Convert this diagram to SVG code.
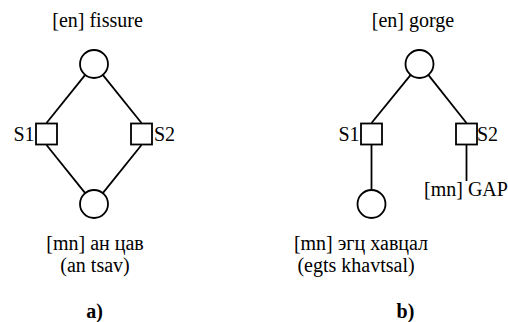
<svg xmlns="http://www.w3.org/2000/svg" width="508" height="322" viewBox="0 0 508 322">
<style>
.n{fill:#fff;stroke:#000;stroke-width:1.8}
.c line{stroke:#000;stroke-width:1.8}
</style>
<rect width="508" height="322" fill="#fff"/>
<g id="connectors" class="c">
<line x1="46.5" y1="123" x2="85.2" y2="74.9"/>
<line x1="141.5" y1="123" x2="102.8" y2="74.9"/>
<line x1="46.5" y1="145" x2="85.2" y2="193.1"/>
<line x1="141.5" y1="145" x2="102.8" y2="193.1"/>
<line x1="371.5" y1="123" x2="410.7" y2="74.9"/>
<line x1="466.5" y1="123" x2="428.3" y2="74.9"/>
<line x1="371.5" y1="145" x2="371.5" y2="190"/>
<line x1="466.5" y1="145" x2="466.5" y2="181"/>
</g>
<g id="a-top"><circle class="n" cx="94" cy="64" r="14"/><text font-family="Liberation Serif" font-size="20" text-anchor="middle" x="97.5" y="27">[en] fissure</text></g>
<g id="a-s1"><rect class="n" x="36" y="123.5" width="21" height="21"/><text font-family="Liberation Serif" font-size="20" text-anchor="end" x="34.5" y="141">S1</text></g>
<g id="a-s2"><rect class="n" x="131" y="123.5" width="21" height="21"/><text font-family="Liberation Serif" font-size="20" x="154" y="141">S2</text></g>
<g id="a-bottom"><circle class="n" cx="94" cy="204" r="14"/><text font-family="Liberation Serif" font-size="20" text-anchor="middle" x="95" y="250">[mn] &#1072;&#1085; &#1094;&#1072;&#1074;</text><text font-family="Liberation Serif" font-size="20" text-anchor="middle" x="95" y="272">(an tsav)</text></g>
<g id="a-label"><text font-family="Liberation Serif" font-size="20" font-weight="bold" text-anchor="middle" x="94.5" y="318">a)</text></g>
<g id="b-top"><circle class="n" cx="419.5" cy="64" r="14"/><text font-family="Liberation Serif" font-size="20" text-anchor="middle" x="413" y="27">[en] gorge</text></g>
<g id="b-s1"><rect class="n" x="361" y="123.5" width="21" height="21"/><text font-family="Liberation Serif" font-size="20" text-anchor="end" x="359.5" y="141">S1</text></g>
<g id="b-s2"><rect class="n" x="456" y="123.5" width="21" height="21"/><text font-family="Liberation Serif" font-size="20" x="477" y="141">S2</text></g>
<g id="b-bottom"><circle class="n" cx="371.5" cy="204" r="14"/><text font-family="Liberation Serif" font-size="20" text-anchor="middle" x="361" y="250">[mn] &#1101;&#1075;&#1094; &#1093;&#1072;&#1074;&#1094;&#1072;&#1083;</text><text font-family="Liberation Serif" font-size="20" text-anchor="middle" x="356" y="272">(egts khavtsal)</text></g>
<g id="b-gap"><text font-family="Liberation Serif" font-size="20" x="424" y="196">[mn] GAP</text></g>
<g id="b-label"><text font-family="Liberation Serif" font-size="20" font-weight="bold" text-anchor="middle" x="405.5" y="318">b)</text></g>
</svg>
